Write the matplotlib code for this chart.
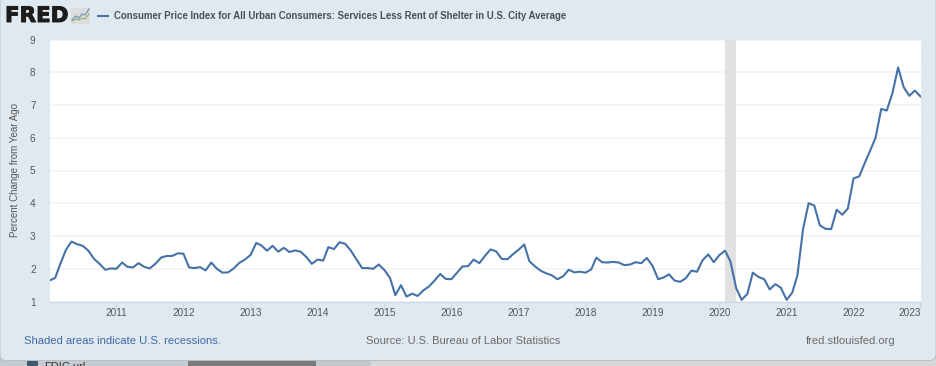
import matplotlib
matplotlib.use("Agg")
import matplotlib.pyplot as plt
import matplotlib.dates as mdates
import matplotlib.patheffects as pe
from matplotlib.patches import FancyBboxPatch, Rectangle
import pandas as pd

start_month = "2010-01-01"
values = [
    1.64, 1.72, 2.15, 2.58, 2.83, 2.75, 2.70, 2.55, 2.30, 2.15, 1.97, 2.01,
    2.00, 2.19, 2.06, 2.04, 2.17, 2.06, 2.01, 2.15, 2.34, 2.39, 2.39, 2.47,
    2.46, 2.04, 2.02, 2.05, 1.95, 2.19, 2.00, 1.88, 1.89, 2.01, 2.18, 2.28,
    2.42, 2.79, 2.71, 2.55, 2.70, 2.52, 2.64, 2.51, 2.56, 2.52, 2.36, 2.15,
    2.28, 2.25, 2.66, 2.60, 2.81, 2.76, 2.56, 2.29, 2.02, 2.02, 2.00, 2.13,
    1.96, 1.71, 1.19, 1.50, 1.15, 1.24, 1.17, 1.34, 1.46, 1.64, 1.84, 1.69,
    1.68, 1.88, 2.07, 2.08, 2.28, 2.17, 2.39, 2.59, 2.53, 2.30, 2.29, 2.44,
    2.58, 2.74, 2.23, 2.07, 1.94, 1.86, 1.80, 1.68, 1.77, 1.97, 1.89, 1.91,
    1.88, 1.98, 2.34, 2.20, 2.19, 2.21, 2.19, 2.11, 2.13, 2.20, 2.17, 2.33,
    2.09, 1.68, 1.73, 1.83, 1.64, 1.60, 1.71, 1.94, 1.91, 2.26, 2.44, 2.20,
    2.42, 2.55, 2.22, 1.41, 1.05, 1.23, 1.88, 1.75, 1.68, 1.37, 1.53, 1.42,
    1.05, 1.27, 1.80, 3.22, 4.00, 3.93, 3.33, 3.22, 3.21, 3.80, 3.65, 3.84,
    4.76, 4.82, 5.20, 5.60, 6.00, 6.88, 6.83, 7.36, 8.15, 7.55, 7.28, 7.44,
    7.26,
]
year_ticks = list(range(2011, 2024))
y_ticks = list(range(1, 10))
recession = ("2020-02-01", "2020-04-01")
title = "Consumer Price Index for All Urban Consumers: Services Less Rent of Shelter in U.S. City Average"
y_label = "Percent Change from Year Ago"

W, H = 936, 366
plt.rcParams["font.family"] = ["Liberation Sans", "DejaVu Sans"]
fig = plt.figure(figsize=(W / 100, H / 100), dpi=100, facecolor="#d6d6d6")

# page strip and rounded card, in pixel coordinates
bg = fig.add_axes([0, 0, 1, 1], zorder=0)
bg.set_xlim(0, W)
bg.set_ylim(H, 0)
bg.axis("off")
bg.add_patch(Rectangle((0, 355), 188, 11, fc="#c3cbd1", ec="none"))
bg.add_patch(Rectangle((188, 355), 128, 11, fc="#7b7b7b", ec="none"))
bg.add_patch(Rectangle((316, 355), 55, 11, fc="#c3c8cc", ec="none"))
bg.add_patch(Rectangle((27, 361), 11, 5, fc="#3f5a70", ec="none"))
bg.text(44, 366.5, "FDIC.url", fontsize=8, color="#333333", va="center", clip_on=True)
bg.add_patch(FancyBboxPatch((0, -20), W, 380.5, boxstyle="round,pad=0,rounding_size=6",
                            fc="#e1e9f0", ec="#b9bfc4", lw=0.7))

# logo
bg.text(5, 16, "FRED", fontsize=15.4, fontweight="bold", family="DejaVu Sans", color="#1c1c1c",
        va="center", ha="left", path_effects=[pe.withStroke(linewidth=0.7, foreground="#1c1c1c")])
bg.add_patch(Rectangle((71, 8), 19, 16, fc="#dcdcdc", ec="none"))
bg.plot([72, 76, 79, 82, 85, 89], [20, 16, 18, 14, 15, 9], color="#6b8fb8", lw=0.8)
bg.plot([72, 76, 79, 82, 85, 89], [21, 19, 20, 18, 19, 14], color="#8cae6a", lw=0.8)

# legend key and title
bg.plot([97, 109], [15.5, 15.5], color="#4572a7", lw=1.5, solid_capstyle="butt")
bg.text(113.5, 16, title, fontsize=6.96, fontweight="bold", color="#4a4f55", va="center", ha="left")

# plot
dates = pd.date_range(start_month, periods=len(values), freq="MS")
x0, x1, y_top, y_bot = 49.5, 920.5, 39.5, 301.5
ax = fig.add_axes([x0 / W, 1 - y_bot / H, (x1 - x0) / W, (y_bot - y_top) / H], zorder=1, facecolor="white")
ax.axvspan(pd.Timestamp(recession[0]), pd.Timestamp(recession[1]), color="#e1e1e1", lw=0, zorder=1)
ax.plot(dates, values, color="#4572a7", lw=1.5, zorder=3, solid_joinstyle="round", clip_on=True)
ax.set_xlim(dates[0], dates[-1])
ax.set_ylim(1, 9)
ax.set_yticks(y_ticks)
ax.set_xticks([pd.Timestamp(year=y, month=1, day=1) for y in year_ticks])
ax.xaxis.set_major_formatter(mdates.DateFormatter("%Y"))
ax.grid(axis="y", color="#f2f2f2", lw=1.1, zorder=0)
ax.set_axisbelow(True)
for s in ["top", "left", "right"]:
    ax.spines[s].set_visible(False)
ax.spines["bottom"].set_color("#ccd6eb")
ax.spines["bottom"].set_linewidth(0.9)
ax.tick_params(axis="x", length=5, width=0.8, color="#ccd6eb", labelsize=7.2, labelcolor="#555555", pad=0)
ax.tick_params(axis="y", length=0, labelsize=7.2, labelcolor="#555555", pad=10)
for t in ax.get_xticklabels():
    t.set_ha("center")
ax.get_xticklabels()[-1].set_ha("right")

bg.text(15, 170, y_label, fontsize=7.05, color="#555555", rotation=90, va="center", ha="center")

bg.text(24.5, 341, "Shaded areas indicate U.S. recessions.", fontsize=8.12, color="#3f6ba8", va="center", ha="left")
bg.text(365.5, 341, "Source: U.S. Bureau of Labor Statistics", fontsize=8.04, color="#6b6b6b", va="center", ha="left")
bg.text(806, 341, "fred.stlouisfed.org", fontsize=8.12, color="#6b6b6b", va="center", ha="left")

fig.savefig("out.png", dpi=100, facecolor=fig.get_facecolor())
